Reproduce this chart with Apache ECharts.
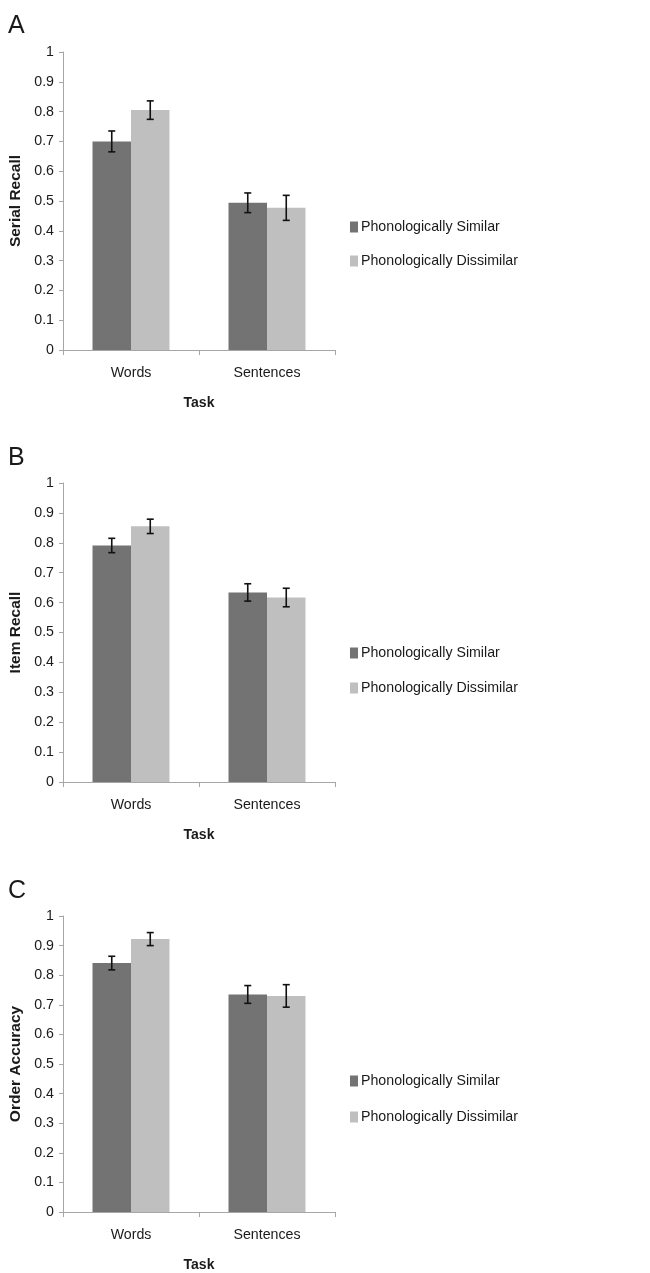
<!DOCTYPE html>
<html>
<head>
<meta charset="utf-8">
<script src="https://cdn.jsdelivr.net/npm/echarts@6/dist/echarts.min.js"></script>
<style>
html,body{margin:0;padding:0;background:#fff;}
#main{width:650px;height:1273px;}
</style>
</head>
<body>
<div id="main"></div>
<script>
// ---- data ----
var categories = ['Words', 'Sentences'];
var seriesNames = ['Phonologically Similar', 'Phonologically Dissimilar'];
var panelLetters = ['A', 'B', 'C'];
var yTitles = ['Serial Recall', 'Item Recall', 'Order Accuracy'];
var xTitle = 'Task';
var yTicks = [0, 0.1, 0.2, 0.3, 0.4, 0.5, 0.6, 0.7, 0.8, 0.9, 1];

var serialSimilar = [0.700, 0.494];
var serialSimilarErr = [0.035, 0.033];
var serialDissimilar = [0.805, 0.477];
var serialDissimilarErr = [0.031, 0.042];

var itemSimilar = [0.791, 0.634];
var itemSimilarErr = [0.024, 0.029];
var itemDissimilar = [0.855, 0.617];
var itemDissimilarErr = [0.024, 0.031];

var orderSimilar = [0.841, 0.735];
var orderSimilarErr = [0.023, 0.030];
var orderDissimilar = [0.922, 0.730];
var orderDissimilarErr = [0.022, 0.038];

// ---- font detection ----
function hasFont(name) {
  var c = document.createElement('canvas').getContext('2d');
  var s = 'Phonologically Dissimilar 0.123';
  c.font = '20px monospace';
  var w0 = c.measureText(s).width;
  c.font = "20px '" + name + "', monospace";
  return Math.abs(c.measureText(s).width - w0) > 0.5;
}
var narrow = hasFont('Liberation Sans Narrow');
var FONT = narrow ? "'Liberation Sans Narrow', 'Liberation Sans', sans-serif" : "'Liberation Sans', Arial, sans-serif";
var FS = narrow ? 17 : 14.2;
var LETTER_FS = narrow ? 27 : 25;
var TITLE_FS = narrow ? 16 : 14;

var DARK = '#737373';
var LIGHT = '#bfbfbf';
var AXIS = '#a6a6a6';
var TEXT = '#1a1a1a';
var BARW = 0.283;

var panels = [
  {sim: serialSimilar, simE: serialSimilarErr, dis: serialDissimilar, disE: serialDissimilarErr, top: 52, h: 298, legTop: 213, legGap: 16, letterTop: 14},
  {sim: itemSimilar, simE: itemSimilarErr, dis: itemDissimilar, disE: itemDissimilarErr, top: 483, h: 299, legTop: 639, legGap: 17, letterTop: 446},
  {sim: orderSimilar, simE: orderSimilarErr, dis: orderDissimilar, disE: orderDissimilarErr, top: 916, h: 297, legTop: 1067, legGap: 18, letterTop: 879}
];

var grids = [], xAxes = [], yAxes = [], series = [], legends = [], titles = [];

function errRenderer(side) {
  return function (params, api) {
    var ci = api.value(0);
    var v = api.value(1), e = api.value(2);
    var band = api.size([1, 0])[0];
    var bw = band * BARW;
    var c = api.coord([ci, v]);
    var x = c[0] + side * bw / 2;
    var yHi = api.coord([ci, v + e])[1];
    var yLo = api.coord([ci, v - e])[1];
    var cap = 3.5;
    var st = {stroke: '#111', lineWidth: 1.6};
    return {
      type: 'group',
      children: [
        {type: 'line', shape: {x1: x, y1: yHi, x2: x, y2: yLo}, style: st},
        {type: 'line', shape: {x1: x - cap, y1: yHi, x2: x + cap, y2: yHi}, style: st},
        {type: 'line', shape: {x1: x - cap, y1: yLo, x2: x + cap, y2: yLo}, style: st}
      ]
    };
  };
}

panels.forEach(function (p, i) {
  grids.push({left: 63, width: 272, top: p.top, height: p.h, containLabel: false});
  xAxes.push({
    type: 'category', gridIndex: i, data: categories,
    axisLine: {show: true, lineStyle: {color: AXIS, width: 1}},
    axisTick: {show: true, length: 5, lineStyle: {color: AXIS}},
    axisLabel: {color: TEXT, fontFamily: FONT, fontSize: FS, margin: 16},
    name: xTitle, nameLocation: 'middle', nameGap: 46,
    nameTextStyle: {color: TEXT, fontFamily: FONT, fontSize: TITLE_FS, fontWeight: 'bold'}
  });
  yAxes.push({
    type: 'value', gridIndex: i, min: 0, max: 1, interval: 0.1,
    axisLine: {show: true, lineStyle: {color: AXIS, width: 1}},
    axisTick: {show: true, length: 4, lineStyle: {color: AXIS}},
    splitLine: {show: false},
    axisLabel: {color: TEXT, fontFamily: FONT, fontSize: FS, margin: 9,
      formatter: function (v) { var r = Math.round(v * 10) / 10; return yTicks.indexOf(r) >= 0 ? String(r) : ''; }},
    name: yTitles[i], nameLocation: 'middle', nameGap: 39, nameRotate: 90,
    nameTextStyle: {color: TEXT, fontFamily: "'Liberation Sans', Arial, sans-serif", fontSize: 15.5, fontWeight: 'bold'}
  });
  series.push({
    name: seriesNames[0], type: 'bar', xAxisIndex: i, yAxisIndex: i, data: p.sim,
    barWidth: (BARW * 100) + '%', barGap: '0%', itemStyle: {color: DARK}, silent: true
  });
  series.push({
    name: seriesNames[1], type: 'bar', xAxisIndex: i, yAxisIndex: i, data: p.dis,
    barWidth: (BARW * 100) + '%', barGap: '0%', itemStyle: {color: LIGHT}, silent: true
  });
  series.push({
    type: 'custom', xAxisIndex: i, yAxisIndex: i, silent: true, z: 5,
    renderItem: errRenderer(-1),
    data: categories.map(function (c, k) { return [k, p.sim[k], p.simE[k]]; })
  });
  series.push({
    type: 'custom', xAxisIndex: i, yAxisIndex: i, silent: true, z: 5,
    renderItem: errRenderer(1),
    data: categories.map(function (c, k) { return [k, p.dis[k], p.disE[k]]; })
  });
  legends.push({
    data: seriesNames, orient: 'vertical', left: 345, top: p.legTop,
    itemWidth: 8, itemHeight: 11, itemGap: p.legGap, icon: 'rect',
    textStyle: {color: TEXT, fontFamily: FONT, fontSize: FS, lineHeight: 18, padding: [0, 0, 0, -2]},
    selectedMode: false
  });
  titles.push({
    text: panelLetters[i], left: 8, top: p.letterTop, padding: 0,
    textStyle: {color: TEXT, fontFamily: FONT, fontSize: LETTER_FS, fontWeight: 'normal'}
  });
});

var chart = echarts.init(document.getElementById('main'), null, {renderer: 'canvas'});
chart.setOption({
  animation: false,
  backgroundColor: '#ffffff',
  title: titles,
  legend: legends,
  grid: grids,
  xAxis: xAxes,
  yAxis: yAxes,
  series: series
});
</script>
</body>
</html>
